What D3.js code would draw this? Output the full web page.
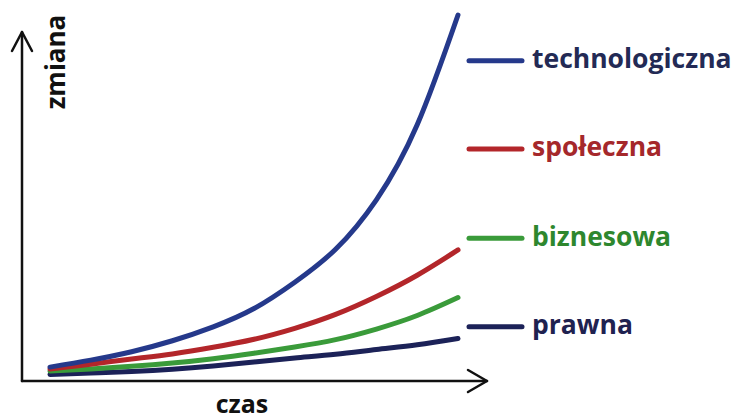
<!DOCTYPE html>
<html>
<head>
<meta charset="utf-8">
<script src="https://cdn.jsdelivr.net/npm/d3@7/dist/d3.min.js"></script>
<style>
  html, body { margin: 0; padding: 0; background: #fff; }
  svg { display: block; font-family: "Open Sans", "Noto Sans", sans-serif; }
</style>
</head>
<body>
<svg id="chart" width="737" height="416"></svg>
<script>
// time steps (x) and the four kinds of change (y, 0-100)
const czas = [0, 1, 2, 3, 4, 5, 6, 7, 8, 9, 10]
const technologiczna = [3.8, 5.7, 8.0, 11.0, 14.8, 19.8, 27.0, 36.0, 49.5, 70.0, 100]
const spoleczna = [3.3, 4.6, 6.0, 7.4, 9.2, 11.4, 14.4, 18.2, 23.1, 28.9, 35.8]
const biznesowa = [2.7, 3.3, 4.0, 4.9, 6.1, 7.6, 9.3, 11.3, 14.2, 17.9, 22.8]
const prawna = [1.8, 2.2, 2.6, 3.2, 4.1, 5.2, 6.3, 7.3, 8.6, 9.9, 11.6]

const nazwy = ["technologiczna", "społeczna", "biznesowa", "prawna"]
// where each legend entry sits on the value scale
const legendaPoziom = [87.5, 63.4, 39, 14.8]

const series = [
  {name: nazwy[0], values: technologiczna, line: "#25398b", text: "#232a55"},
  {name: nazwy[1], values: spoleczna, line: "#b3262a", text: "#a5282b"},
  {name: nazwy[2], values: biznesowa, line: "#3a9b3a", text: "#2e872e"},
  {name: nazwy[3], values: prawna, line: "#1c2258", text: "#1f2250"}
]

const svg = d3.select("#chart")
const origin = {x: 22, y: 381}

const x = d3.scaleLinear().domain([0, 10]).range([50, 458])
const y = d3.scaleLinear().domain([0, 100]).range([381, 15])

// axes with open arrow heads
const axes = svg.append("g")
  .attr("fill", "none")
  .attr("stroke", "#111")
  .attr("stroke-width", 2.5)
  .attr("stroke-linecap", "round")
  .attr("stroke-linejoin", "round")

axes.append("path").attr("d", `M${origin.x},${origin.y}V32`)
axes.append("path").attr("d", `M${origin.x - 10},51L${origin.x},32L${origin.x + 10},51`)
axes.append("path").attr("d", `M${origin.x},${origin.y}H487`)
axes.append("path").attr("d", `M468,${origin.y - 11}L487,${origin.y}L468,${origin.y + 11}`)

svg.append("text")
  .attr("transform", "translate(65,62) rotate(-90)")
  .attr("text-anchor", "middle")
  .attr("font-size", 26)
  .attr("font-weight", 700)
  .attr("fill", "#111")
  .text("zmiana")

svg.append("text")
  .attr("x", 242)
  .attr("y", 413)
  .attr("text-anchor", "middle")
  .attr("font-size", 25)
  .attr("font-weight", 700)
  .attr("fill", "#111")
  .text("czas")

const line = d3.line()
  .x((d, i) => x(czas[i]))
  .y(d => y(d))
  .curve(d3.curveNatural)

// draw the flatter ones last so the bundle at the start looks stacked
svg.append("g").selectAll("path")
  .data(series.slice().reverse())
  .join("path")
  .attr("d", d => line(d.values))
  .attr("fill", "none")
  .attr("stroke", d => d.line)
  .attr("stroke-width", 5)
  .attr("stroke-linecap", "round")

const legend = svg.append("g").selectAll("g")
  .data(series)
  .join("g")
  .attr("transform", (d, i) => `translate(0,${y(legendaPoziom[i])})`)

legend.append("line")
  .attr("x1", 469)
  .attr("x2", 522)
  .attr("stroke", d => d.line)
  .attr("stroke-width", 5)
  .attr("stroke-linecap", "round")

legend.append("text")
  .attr("x", 532)
  .attr("y", 7.5)
  .attr("font-size", 26.5)
  .attr("font-weight", 700)
  .attr("fill", d => d.text)
  .text(d => d.name)
</script>
</body>
</html>
